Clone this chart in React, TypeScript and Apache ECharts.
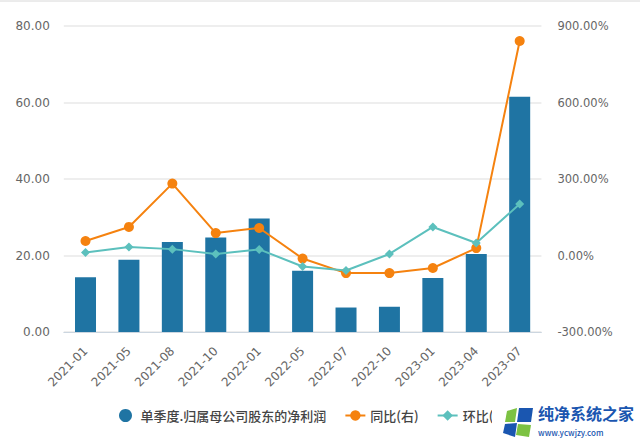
import React, { useEffect, useRef } from "react";
import * as echarts from "echarts";

const categories = ["2021-01","2021-05","2021-08","2021-10","2022-01","2022-05","2022-07","2022-10","2023-01","2023-04","2023-07"];
const profit = [14.3,18.9,23.5,24.7,29.7,16.0,6.4,6.6,14.1,20.4,61.5];
const yoy = [57,112,282,88,108,-12,-69,-69,-49,29,841];
const qoq = [12,33,25,6,24,-43,-59,6,112,49,202];
const leftTicks = { min: 0, max: 80, interval: 20 };
const rightTicks = { min: -300, max: 900, interval: 300 };
const names = ["单季度.归属母公司股东的净利润", "同比(右)", "环比(右)"];
const font = '"Noto Sans CJK SC", "Noto Sans", sans-serif';
const labelFont = '"DejaVu Sans", "Noto Sans", sans-serif';

export default function App() {
  const ref = useRef<HTMLDivElement>(null);
  useEffect(() => {
    const chart = echarts.init(ref.current!, undefined, { renderer: "svg" });
    chart.setOption({
      animation: false,
      backgroundColor: "#fff",
      grid: { left: 63.8, right: 98.6, top: 26, bottom: 110 },
      legend: {
        left: 114, top: 404, itemGap: 18, itemWidth: 20, itemHeight: 13,
        textStyle: { fontFamily: font, fontSize: 13, color: "#444", fontWeight: 500 },
        data: [
          { name: names[0], icon: "circle" },
          { name: names[1] },
          { name: names[2] },
        ],
      },
      xAxis: {
        type: "category", data: categories,
        axisLine: { lineStyle: { color: "#ccd6e0" } },
        axisTick: { length: 6, lineStyle: { color: "#ccd6e0" } },
        axisLabel: { rotate: 45, fontFamily: labelFont, fontSize: 12, color: "#666", margin: 17 },
      },
      yAxis: [
        { type: "value", ...leftTicks, axisLine: { show: false }, axisTick: { show: false },
          splitLine: { lineStyle: { color: "#e8e8e8", width: 1.5 } },
          axisLabel: { formatter: (v: number) => v.toFixed(2), fontFamily: labelFont, fontSize: 12, color: "#666", margin: 14 } },
        { type: "value", ...rightTicks, axisLine: { show: false }, axisTick: { show: false }, splitLine: { show: false },
          axisLabel: { formatter: (v: number) => v.toFixed(2) + "%", fontFamily: labelFont, fontSize: 11.5, color: "#666", margin: 16 } },
      ],
      series: [
        { name: names[0], type: "bar", data: profit, barWidth: 21, itemStyle: { color: "#1f74a3" } },
        { name: names[1], type: "line", yAxisIndex: 1, data: yoy, symbol: "circle", symbolSize: 10,
          lineStyle: { color: "#f5820f", width: 2 }, itemStyle: { color: "#f5820f" } },
        { name: names[2], type: "line", yAxisIndex: 1, data: qoq, symbol: "diamond", symbolSize: 9,
          lineStyle: { color: "#5cc0bd", width: 2 }, itemStyle: { color: "#5cc0bd" } },
      ],
      graphic: [
        { type: "line", z: 50, shape: { x1: 0, y1: 1, x2: 640, y2: 1 }, style: { stroke: "#d8d8d8", lineWidth: 1 } },
        { type: "rect", z: 100, shape: { x: 492, y: 395, width: 148, height: 47 }, style: { fill: "#fff" } },
        { type: "polygon", z: 101, shape: { points: [[505,424],[517,423],[515,437],[503,433]] }, style: { fill: "#1a56b0" } },
        { type: "polygon", z: 101, shape: { points: [[519,408],[533,408],[531,422],[517,422]] }, style: { fill: "#1a56b0" } },
        { type: "polygon", z: 101, shape: { points: [[507,411],[517,408],[515,422],[505,422]] }, style: { fill: "#7cc242" } },
        { type: "polygon", z: 101, shape: { points: [[518,424],[531,425],[529,437],[516,435]] }, style: { fill: "#7cc242" } },
        { type: "text", z: 101, x: 538, y: 405, style: { text: "纯净系统之家", fontFamily: font, fontSize: 16, fontWeight: 700, fill: "#1a56b0" } },
        { type: "text", z: 101, x: 538, y: 428, style: { text: "www.ycwjzy.com", fontFamily: font, fontSize: 8, fontWeight: 500, fill: "#1a56b0" } },
      ],
    });
    return () => chart.dispose();
  }, []);
  return <div ref={ref} style={{ width: 640, height: 442, position: "fixed", left: 0, top: 0 }} />;
}
